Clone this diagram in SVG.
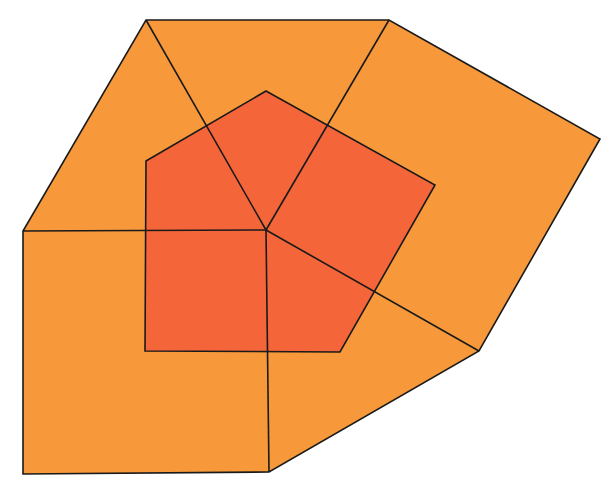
<svg xmlns="http://www.w3.org/2000/svg" width="615" height="498" viewBox="0 0 615 498">
<style>
.outer{fill:#F7993A;stroke:#1a1a1a;stroke-width:1.6;stroke-linejoin:miter}
.inner{fill:#F46639;stroke:#1a1a1a;stroke-width:1.6}
.ln{fill:none;stroke:#1a1a1a;stroke-width:1.6}
</style>
<rect width="615" height="498" fill="#ffffff"/>
<g id="outer">
<polygon class="outer" points="146,20 389,20 600,139 479,351 269,472 23,474 23,231"/>
</g>
<g id="pentagon">
<polygon class="inner" points="266,91 435,185 340,352 145,351 146,161"/>
</g>
<g id="connectors">
<line class="ln" x1="266" y1="230" x2="146" y2="20"/>
<line class="ln" x1="266" y1="230" x2="389" y2="20"/>
<line class="ln" x1="266" y1="230" x2="23" y2="231"/>
<line class="ln" x1="266" y1="230" x2="269" y2="472"/>
<line class="ln" x1="266" y1="230" x2="479" y2="351"/>
</g>
</svg>
